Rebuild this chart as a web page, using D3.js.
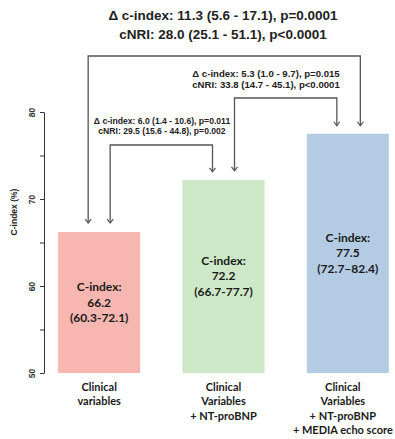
<!DOCTYPE html>
<html lang="en">
<head>
<meta charset="UTF-8">
<title>C-index comparison</title>
<script src="https://d3js.org/d3.v7.min.js"></script>
<style>
  body { margin: 0; background: #fff; }
  svg { display: block; }
  .ann { font-family: "Liberation Sans", Arial, sans-serif; font-weight: bold; fill: #222; }
  .cal { font-family: Lato, "Open Sans", sans-serif; font-weight: bold; fill: #1a1a1a; }
</style>
</head>
<body>
<div id="chart"></div>
<script>
// data
var models = ["Clinical variables", "Clinical Variables + NT-proBNP", "Clinical Variables + NT-proBNP + MEDIA echo score"];
var modelLines = [
  ["Clinical", "variables"],
  ["Clinical", "Variables", "+ NT-proBNP"],
  ["Clinical", "Variables", "+ NT-proBNP", "+ MEDIA echo score"]
];
var cindex = [66.2, 72.2, 77.5];
var ciText = ["(60.3-72.1)", "(66.7-77.7)", "(72.7\u201382.4)"];
var barColors = ["#f7b6af", "#cde8c6", "#b4cce3"];
var yTicks = [50, 55, 60, 65, 70, 75, 80];

// comparisons: from bar, to bar, delta c-index text, cNRI text
var compFrom = [0, 1, 0];
var compTo   = [1, 2, 2];
var compDelta = ["\u0394 c-index: 6.0 (1.4 - 10.6), p=0.011",
                 "\u0394 c-index: 5.3 (1.0 - 9.7), p=0.015",
                 "\u0394 c-index: 11.3 (5.6 - 17.1), p=0.0001"];
var compNri = ["cNRI: 29.5 (15.6 - 44.8), p=0.002",
               "cNRI: 33.8 (14.7 - 45.1), p<0.0001",
               "cNRI: 28.0 (25.1 - 51.1), p<0.0001"];

var W = 395, H = 439;
var svg = d3.select("#chart").append("svg").attr("width", W).attr("height", H);

var x = d3.scaleBand().domain(models).range([37, 410]).paddingInner(0.34).paddingOuter(0.17);
var y = d3.scaleLinear().domain([50, 80]).range([373, 112]);

// y axis
var yAxis = svg.append("g")
  .attr("transform", "translate(44,0)")
  .call(d3.axisLeft(y).tickValues(yTicks).tickSize(4).tickSizeOuter(0)
    .tickFormat(function(d) { return d % 10 === 0 ? d : ""; }));
yAxis.select(".domain").attr("stroke", "#333").attr("stroke-width", 1);
yAxis.selectAll(".tick line").attr("stroke", "#333");
yAxis.selectAll(".tick text")
  .attr("transform", "rotate(-90)")
  .attr("x", 0).attr("y", -12).attr("dy", "0.35em")
  .attr("text-anchor", "middle")
  .style("font-family", "'Liberation Sans', Arial, sans-serif")
  .style("font-weight", "bold")
  .style("font-size", "8.5px")
  .attr("fill", "#333");

svg.append("text")
  .attr("class", "ann")
  .attr("transform", "translate(14,212) rotate(-90)")
  .attr("dy", "0.35em")
  .attr("text-anchor", "middle")
  .style("font-size", "8.5px")
  .attr("fill", "#333")
  .text("C-index (%)");

// bars
svg.selectAll("rect.bar").data(cindex).enter().append("rect")
  .attr("class", "bar")
  .attr("x", function(d, i) { return x(models[i]); })
  .attr("y", function(d) { return y(d); })
  .attr("width", x.bandwidth())
  .attr("height", function(d) { return y(50) - y(d); })
  .attr("fill", function(d, i) { return barColors[i]; });

// labels inside bars
cindex.forEach(function(v, i) {
  var cx = x(models[i]) + x.bandwidth() / 2;
  var cy = (y(v) + y(50)) / 2;
  var lines = ["C-index:", v.toFixed(1), ciText[i]];
  var t = svg.append("text").attr("class", "cal")
    .attr("text-anchor", "middle").style("font-size", "12px");
  lines.forEach(function(s, k) {
    t.append("tspan").attr("x", cx).attr("y", cy + (k - 1) * 15.5 + 4).text(s);
  });
});

// category labels
modelLines.forEach(function(lines, i) {
  var cx = x(models[i]) + x.bandwidth() / 2 - (i === 2 ? 5 : 0);
  var t = svg.append("text").attr("class", "cal")
    .attr("text-anchor", "middle").style("font-size", "11px");
  lines.forEach(function(s, k) {
    t.append("tspan").attr("x", cx).attr("y", 391 + k * 14.3).text(s);
  });
});

// arrow marker
svg.append("defs").append("marker")
  .attr("id", "arr")
  .attr("markerUnits", "userSpaceOnUse")
  .attr("viewBox", "-6 -5 8 10")
  .attr("markerWidth", 8).attr("markerHeight", 10)
  .attr("refX", 0).attr("refY", 0)
  .attr("orient", "auto-start-reverse")
  .append("path")
  .attr("d", "M-4,-3L0,0L-4,3")
  .attr("fill", "none").attr("stroke", "#555").attr("stroke-width", 1.2);

// comparison brackets
var bracketY = [145, 98, 56];
var slot = function(i, side) { return x(models[i]) + x.bandwidth() / 2 + side * 11; };
compFrom.forEach(function(f, k) {
  var t = compTo[k];
  var x1 = slot(f, 1), x2 = slot(t, -1);
  if (k === 2) { x1 = slot(f, -1); x2 = slot(t, 1) + 1.5; }
  var y1 = y(cindex[f]) - 9, y2 = y(cindex[t]) - 8;
  svg.append("path")
    .attr("d", "M" + x1 + "," + y1 + "V" + bracketY[k] + "H" + x2 + "V" + y2)
    .attr("fill", "none").attr("stroke", "#555").attr("stroke-width", 1.3)
    .attr("marker-start", "url(#arr)").attr("marker-end", "url(#arr)");
});

// comparison text
var txtX = [162, 266, 223], txtY = [124, 77, 20], txtSize = [8.6, 9.6, 13.5], txtGap = [9.5, 11, 19];
compDelta.forEach(function(s, k) {
  var t = svg.append("text").attr("class", "ann")
    .attr("text-anchor", "middle").style("font-size", txtSize[k] + "px");
  t.append("tspan").attr("x", txtX[k]).attr("y", txtY[k]).text(s);
  t.append("tspan").attr("x", txtX[k]).attr("y", txtY[k] + txtGap[k]).text(compNri[k]);
});
</script>
</body>
</html>
